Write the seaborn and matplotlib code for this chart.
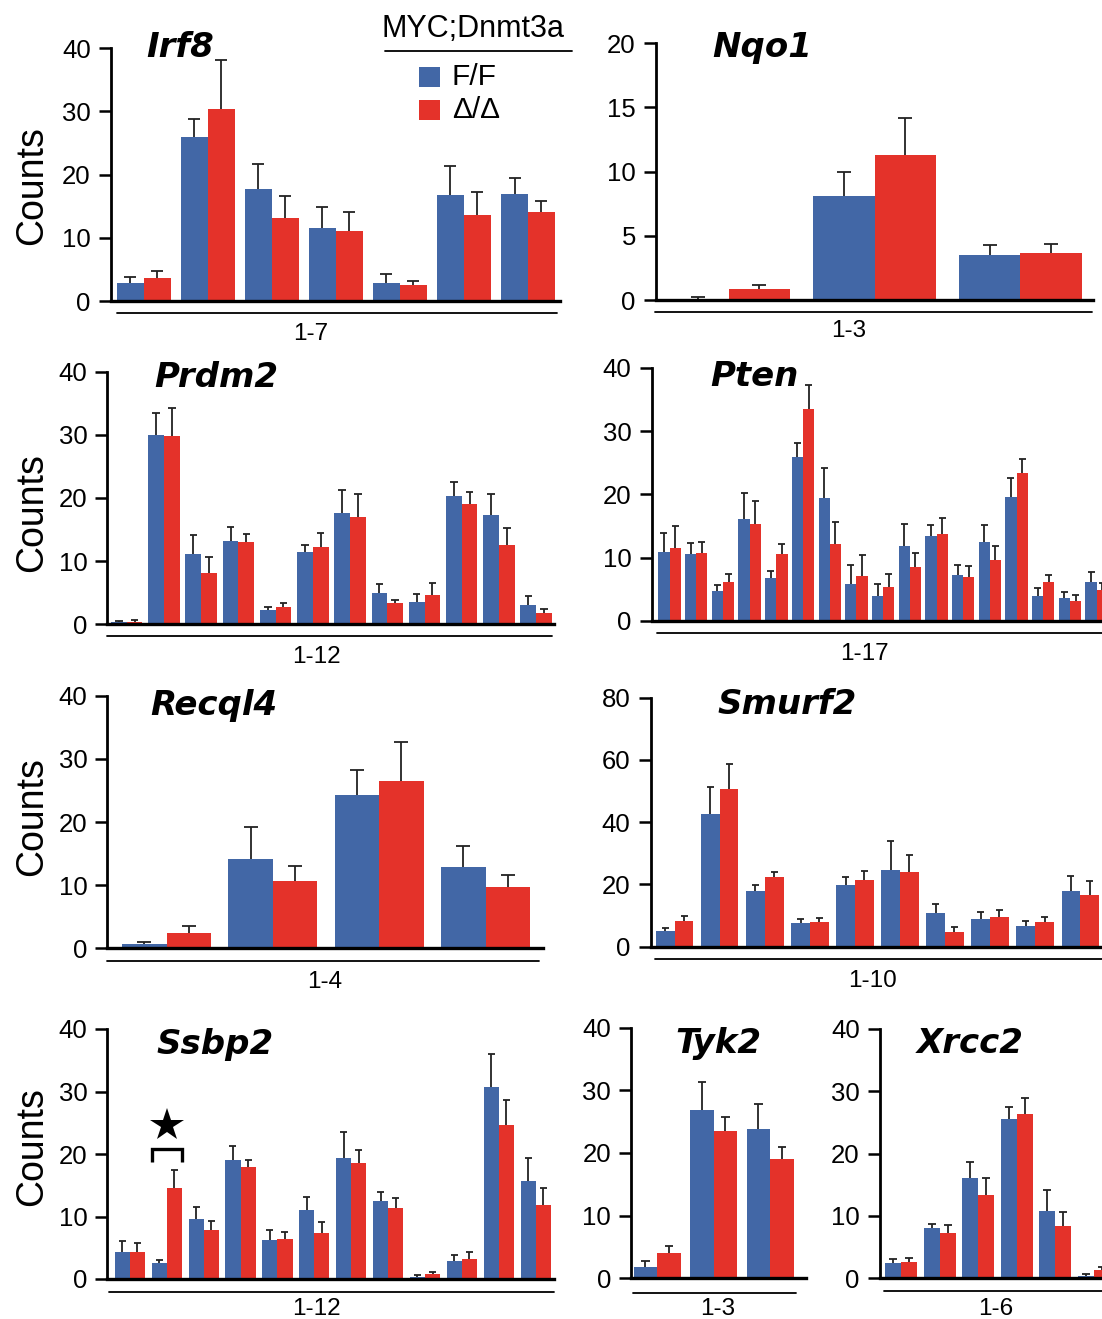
import numpy as np
import pandas as pd
import matplotlib
matplotlib.use("Agg")
import matplotlib.pyplot as plt
import seaborn as sns
from matplotlib.lines import Line2D
from matplotlib.patches import Rectangle

# ---------------- data ----------------
genotypes = ["F/F", "Δ/Δ"]
legend_title = "MYC;Dnmt3a"
ylabel = "Counts"

genes = ["Irf8", "Nqo1", "Prdm2", "Pten", "Recql4", "Smurf2", "Ssbp2", "Tyk2", "Xrcc2"]
ranges = ["1-7", "1-3", "1-12", "1-17", "1-4", "1-10", "1-12", "1-3", "1-6"]

irf8_ff = [2.9, 26.0, 17.8, 11.6, 2.9, 16.7, 17.0]
irf8_ff_err = [0.95, 2.8, 3.9, 3.3, 1.4, 4.7, 2.4]
irf8_dd = [3.7, 30.4, 13.2, 11.1, 2.5, 13.6, 14.1]
irf8_dd_err = [1.1, 7.7, 3.4, 3.0, 0.7, 3.6, 1.8]

nqo1_ff = [0.05, 8.08, 3.5]
nqo1_ff_err = [0.2, 1.92, 0.75]
nqo1_dd = [0.83, 11.3, 3.69]
nqo1_dd_err = [0.31, 2.9, 0.7]

prdm2_ff = [0.3, 30.0, 11.1, 13.2, 2.2, 11.5, 17.6, 4.9, 3.6, 20.3, 17.3, 3.1]
prdm2_ff_err = [0.2, 3.5, 3.0, 2.2, 0.6, 1.1, 3.6, 1.5, 1.2, 2.3, 3.4, 1.4]
prdm2_dd = [0.4, 29.8, 8.1, 13.0, 2.7, 12.3, 17.0, 3.3, 4.6, 19.0, 12.6, 1.8]
prdm2_dd_err = [0.3, 4.5, 2.5, 1.3, 0.7, 2.2, 3.6, 0.6, 1.9, 2.0, 2.6, 0.6]

pten_ff = [10.9, 10.6, 4.8, 16.1, 6.8, 25.9, 19.4, 5.9, 4.0, 11.8, 13.4, 7.3, 12.5, 19.6, 4.0, 3.7, 6.2]
pten_ff_err = [3.0, 1.7, 0.9, 4.1, 1.1, 2.2, 4.7, 3.0, 1.9, 3.5, 1.8, 1.6, 2.7, 3.0, 1.2, 0.9, 1.6]
pten_dd = [11.5, 10.8, 6.2, 15.3, 10.6, 33.4, 12.2, 7.1, 5.3, 8.6, 13.8, 6.9, 9.7, 23.4, 6.1, 3.2, 4.9]
pten_dd_err = [3.5, 1.7, 1.2, 3.7, 1.6, 3.9, 3.5, 3.4, 2.2, 2.2, 2.5, 1.8, 2.2, 2.2, 1.1, 0.9, 1.1]

recql4_ff = [0.74, 14.2, 24.2, 12.8]
recql4_ff_err = [0.26, 5.0, 4.0, 3.4]
recql4_dd = [2.4, 10.6, 26.5, 9.7]
recql4_dd_err = [1.2, 2.4, 6.2, 1.9]

smurf2_ff = [5.1, 42.6, 17.9, 7.6, 19.8, 24.8, 10.9, 8.8, 6.5, 17.8]
smurf2_ff_err = [0.75, 8.6, 1.9, 1.4, 2.7, 9.1, 2.7, 2.2, 1.9, 5.0]
smurf2_dd = [8.2, 50.8, 22.4, 8.0, 21.4, 23.9, 4.8, 9.4, 7.9, 16.6]
smurf2_dd_err = [1.7, 7.9, 1.7, 1.2, 3.0, 5.7, 1.5, 2.4, 1.6, 4.4]

ssbp2_ff = [4.4, 2.5, 9.6, 19.1, 6.3, 11.0, 19.3, 12.5, 0.3, 2.9, 30.7, 15.7]
ssbp2_ff_err = [1.7, 0.5, 2.0, 2.2, 1.5, 2.2, 4.3, 1.4, 0.3, 1.0, 5.3, 3.6]
ssbp2_dd = [4.3, 14.6, 7.8, 17.9, 6.4, 7.3, 18.6, 11.3, 0.75, 3.2, 24.6, 11.9]
ssbp2_dd_err = [1.5, 2.8, 1.5, 1.2, 1.2, 1.8, 2.0, 1.7, 0.45, 1.1, 4.1, 2.7]

tyk2_ff = [1.75, 26.9, 23.8]
tyk2_ff_err = [0.95, 4.4, 4.1]
tyk2_dd = [4.0, 23.5, 19.1]
tyk2_dd_err = [1.2, 2.3, 1.9]

xrcc2_ff = [2.35, 8.0, 16.1, 25.6, 10.7, 0.4]
xrcc2_ff_err = [0.64, 0.7, 2.5, 1.9, 3.4, 0.3]
xrcc2_dd = [2.5, 7.2, 13.3, 26.4, 8.4, 1.3]
xrcc2_dd_err = [0.7, 1.3, 2.8, 2.5, 2.2, 0.4]

ymax = [40, 20, 40, 40, 40, 80, 40, 40, 40]
ystep = [10, 5, 10, 10, 10, 20, 10, 10, 10]

series = [
    (irf8_ff, irf8_ff_err, irf8_dd, irf8_dd_err),
    (nqo1_ff, nqo1_ff_err, nqo1_dd, nqo1_dd_err),
    (prdm2_ff, prdm2_ff_err, prdm2_dd, prdm2_dd_err),
    (pten_ff, pten_ff_err, pten_dd, pten_dd_err),
    (recql4_ff, recql4_ff_err, recql4_dd, recql4_dd_err),
    (smurf2_ff, smurf2_ff_err, smurf2_dd, smurf2_dd_err),
    (ssbp2_ff, ssbp2_ff_err, ssbp2_dd, ssbp2_dd_err),
    (tyk2_ff, tyk2_ff_err, tyk2_dd, tyk2_dd_err),
    (xrcc2_ff, xrcc2_ff_err, xrcc2_dd, xrcc2_dd_err),
]

# ---------------- style / layout ----------------
colors = ["#4267A6", "#E4322A"]
ecol = "#222222"
W, H = 1102, 1319

sns.set_style("ticks")
plt.rcParams["font.family"] = ["Liberation Sans", "DejaVu Sans"]
plt.rcParams["text.color"] = "black"
plt.rcParams["axes.labelcolor"] = "black"
plt.rcParams["xtick.color"] = "black"
plt.rcParams["ytick.color"] = "black"

# box: (left, right, top(px of ymax), bottom(px of 0)), xlim, bar width, cap px
layout = [
    dict(box=(111, 560, 48.3, 301), xlim=(-0.51, 6.5), w=0.84, cap=12),
    dict(box=(656, 1093.3, 43.3, 300), xlim=(-0.5, 2.5), w=0.84, cap=14),
    dict(box=(107.4, 554.4, 371.7, 624.3), xlim=(-0.52, 11.49), w=0.845, cap=7.5),
    dict(box=(651.7, 1110, 367.7, 621), xlim=(-0.67, 16.5), w=0.84, cap=7),
    dict(box=(107.4, 543, 695.7, 948.3), xlim=(-0.556, 3.54), w=0.835, cap=14),
    dict(box=(650.7, 1105, 697.7, 946.7), xlim=(-0.533, 9.55), w=0.83, cap=7),
    dict(box=(107.4, 553.7, 1029, 1279), xlim=(-0.61, 11.49), w=0.82, cap=7),
    dict(box=(631.1, 806, 1027.7, 1278.3), xlim=(-0.46, 2.634), w=0.83, cap=8.5),
    dict(box=(879.8, 1113, 1029, 1278), xlim=(-0.555, 5.5), w=0.83, cap=8),
]
# title (left x, baseline y)
title_pos = [(146, 57), (712, 57), (154, 387), (710, 386), (150, 715),
             (717, 714), (156, 1054), (675, 1053), (917, 1053)]
# underline (y, x0, x1) and range label (center x, baseline y)
underline = [(313, 117, 557), (311.7, 655, 1092), (636, 107, 552), (633.3, 657, 1102),
             (960.7, 107, 539), (959.3, 655, 1102), (1291.7, 109, 554),
             (1293, 633, 796), (1291, 884, 1102)]
range_pos = [(311, 340), (849, 337), (316, 663), (864, 660), (325, 988),
             (873, 987), (316, 1315), (718, 1315), (996, 1315)]
counts_pos = {0: 186, 2: 513, 4: 817, 6: 1147}


def fx(px):
    return px / W


def fy(py):
    return 1 - py / H


fig = plt.figure(figsize=(W / 100, H / 100), dpi=100)
fig.patch.set_facecolor("white")

axes = []
for i, (gene, (ff, ffe, dd, dde)) in enumerate(zip(genes, series)):
    L = layout[i]
    l, r, t, b = L["box"]
    ax = fig.add_axes([fx(l), fy(b), (r - l) / W, (b - t) / H])
    n = len(ff)
    exons = [str(k + 1) for k in range(n)]
    df = pd.DataFrame({
        "exon": exons * 2,
        "counts": list(ff) + list(dd),
        "genotype": [genotypes[0]] * n + [genotypes[1]] * n,
    })
    sns.barplot(data=df, x="exon", y="counts", hue="genotype", order=exons,
                hue_order=genotypes, palette=colors, errorbar=None,
                width=L["w"], saturation=1, legend=False, ax=ax,
                edgecolor="none", linewidth=0)
    ax.set_xlim(*L["xlim"])
    ax.set_ylim(0, ymax[i])
    pitch = (r - l) / (L["xlim"][1] - L["xlim"][0])
    half = L["cap"] / 2 / pitch
    for cont, errs in zip(ax.containers, [ffe, dde]):
        for bar, e in zip(cont, errs):
            xc = bar.get_x() + bar.get_width() / 2
            y = bar.get_height()
            ax.vlines(xc, y, y + e, color=ecol, lw=1.3, zorder=3, clip_on=False)
            ax.hlines(y + e, xc - half, xc + half, color=ecol, lw=1.3, zorder=3,
                      clip_on=False)
    sns.despine(ax=ax)
    ax.spines["left"].set_linewidth(2.0)
    ax.spines["left"].set_color("black")
    ax.spines["bottom"].set_linewidth(2.4)
    ax.spines["bottom"].set_color("black")
    ax.spines["bottom"].set_zorder(4)
    ax.set_xticks([])
    ax.set_yticks(np.arange(0, ymax[i] + 0.1, ystep[i]))
    ax.tick_params(axis="y", length=8.5, width=1.8, labelsize=18.5, pad=6,
                   colors="black")
    ax.set_xlabel("")
    ax.set_ylabel("")
    ax.patch.set_alpha(0)
    axes.append(ax)

    # gene title
    tx, ty = title_pos[i]
    fig.text(fx(tx), fy(ty), gene, ha="left", va="baseline", fontsize=24.5,
             fontweight="bold", fontstyle="italic", family=["DejaVu Sans"],
             color="black")
    # underline + range label
    uy, ux0, ux1 = underline[i]
    fig.add_artist(Line2D([fx(ux0), fx(ux1)], [fy(uy), fy(uy)], color="black", lw=1.3))
    rx, ry = range_pos[i]
    fig.text(fx(rx), fy(ry), ranges[i], ha="center", va="baseline", fontsize=17.5)
    if i in counts_pos:
        fig.text(fx(42), fy(counts_pos[i]), ylabel, rotation=90,
                 rotation_mode="anchor", ha="center", va="baseline", fontsize=27)

# significance mark on Ssbp2 exon 2
ax = axes[6]
ax.plot([1 - 0.4, 1 - 0.4, 1 + 0.4, 1 + 0.4], [18.7, 20.8, 20.8, 18.7],
        color="black", lw=2.4, solid_capstyle="butt", solid_joinstyle="miter",
        clip_on=False, zorder=5)
ax.plot([1], [24.6], marker="*", markersize=25, color="black", clip_on=False,
        zorder=5, markeredgewidth=0)

# legend
fig.text(fx(381), fy(37), legend_title, ha="left", va="baseline", fontsize=22)
fig.add_artist(Line2D([fx(385), fx(572)], [fy(51), fy(51)], color="black", lw=1.3))
for k, (lab, c) in enumerate(zip(genotypes, colors)):
    y0 = 66.7 + 33.3 * k
    fig.add_artist(Rectangle((fx(418.5), fy(y0 + 20)), 21 / W, 20 / H,
                             transform=fig.transFigure, facecolor=c, edgecolor="none"))
    fig.text(fx(452), fy(y0 + 18.5), lab, ha="left", va="baseline", fontsize=21.5)

fig.savefig("out.png", dpi=100, facecolor="white")
